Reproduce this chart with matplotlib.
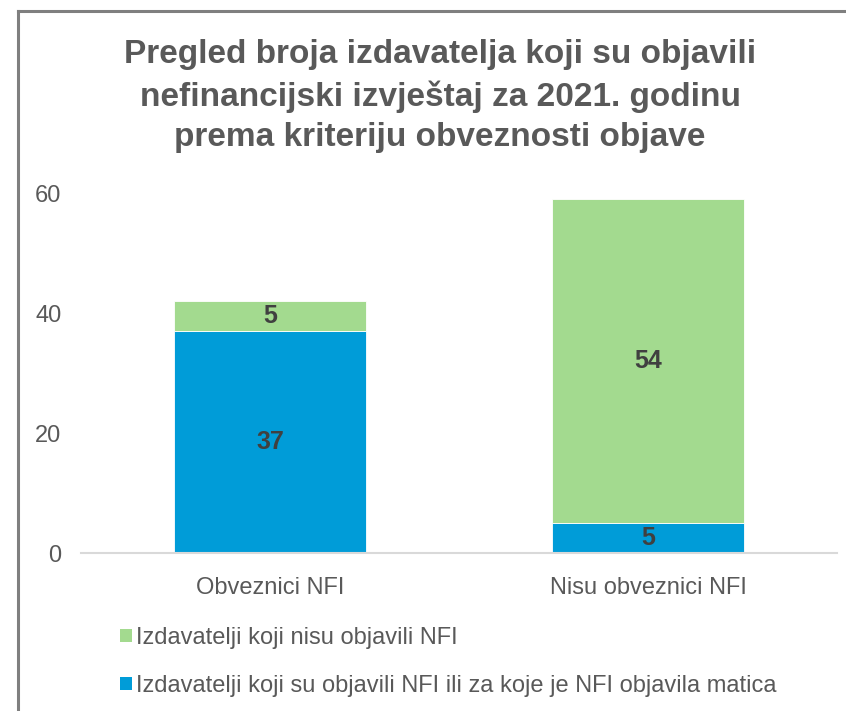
import matplotlib
matplotlib.use("Agg")
import matplotlib.pyplot as plt
from matplotlib import font_manager
from matplotlib.patches import Patch

names = {f.name for f in font_manager.fontManager.ttflist}
FONT = "Liberation Sans Narrow" if "Liberation Sans Narrow" in names else "Liberation Sans"
plt.rcParams['font.family'] = [FONT, 'DejaVu Sans']

categories = ["Obveznici NFI", "Nisu obveznici NFI"]
published = [37, 5]
not_published = [5, 54]
series_names = ["Izdavatelji koji nisu objavili NFI",
                "Izdavatelji koji su objavili NFI ili za koje je NFI objavila matica"]
yticks = [0, 20, 40, 60]
title = "Pregled broja izdavatelja koji su objavili\nnefinancijski izvještaj za 2021. godinu\nprema kriteriju obveznosti objave"

BLUE = "#009CD8"
GREEN = "#A3DA8F"
TXT = "#595959"
LBL = "#404040"

fig = plt.figure(figsize=(8.46, 7.11), dpi=100)
W, H = 846, 711
ax = fig.add_axes([81 / W, 1 - 553 / H, (837 - 81) / W, (553 - 193) / H])

x = list(range(len(categories)))
b1 = ax.bar(x, published, width=0.51, color=BLUE, edgecolor="white", linewidth=0.6, zorder=2)
b2 = ax.bar(x, not_published, width=0.51, bottom=published, color=GREEN, edgecolor="white", linewidth=0.6, zorder=2)

for rects, vals, bots in [(b1, published, [0, 0]), (b2, not_published, published)]:
    for r, v, b in zip(rects, vals, bots):
        ax.text(r.get_x() + r.get_width() / 2, b + v / 2, str(v), ha="center", va="center",
                fontsize=18, fontweight="bold", color=LBL, zorder=3)

ax.set_xlim(-0.5, 1.5)
ax.set_ylim(0, 60)
ax.set_yticks(yticks)
ax.set_yticklabels([str(t) for t in yticks])
ax.set_xticks(x)
ax.set_xticklabels(categories)
for s in ["top", "right", "left"]:
    ax.spines[s].set_visible(False)
ax.spines["bottom"].set_color("#D9D9D9")
ax.spines["bottom"].set_linewidth(1.5)
ax.tick_params(axis="y", length=0, labelsize=17, labelcolor=TXT, pad=14)
ax.tick_params(axis="x", length=0, labelsize=17, labelcolor=TXT, pad=17)

fig.text(440 / W, 1 - 96 / H, title, ha="center", va="center", fontsize=24, fontweight="bold",
         color=TXT, linespacing=1.4)

handles = [Patch(facecolor=GREEN), Patch(facecolor=BLUE)]
leg = fig.legend(handles, series_names, loc="upper left", bbox_to_anchor=(108 / W, 1 - 615 / H),
                 frameon=False, fontsize=17, labelcolor=TXT, handlelength=0.5, handleheight=0.5,
                 handletextpad=0.2, labelspacing=1.1, borderpad=0)

# outer border (top and left visible)
fig.add_artist(plt.Line2D([18 / W, 18 / W], [0, 1 - 11 / H], color="#7F7F7F", linewidth=2.2,
                          transform=fig.transFigure))
fig.add_artist(plt.Line2D([18 / W, 1], [1 - 11 / H, 1 - 11 / H], color="#7F7F7F", linewidth=2.2,
                          transform=fig.transFigure))

fig.savefig("out.png", dpi=100)
